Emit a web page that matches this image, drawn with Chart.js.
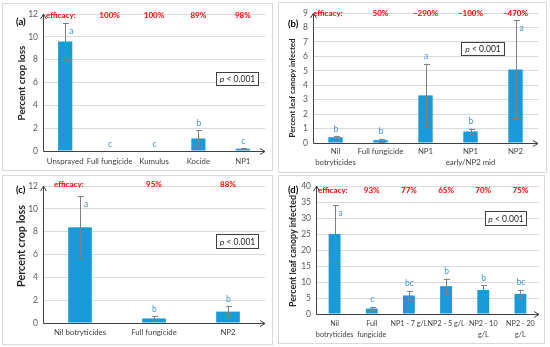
<!DOCTYPE html>
<html><head><meta charset="utf-8">
<script src="https://cdn.jsdelivr.net/npm/chart.js@4"></script>
<style>
html,body{margin:0;padding:0;background:#fff;}
body{width:550px;height:347px;position:relative;overflow:hidden;}
.panel{position:absolute;border:1px solid #d9d9d9;}
.panel canvas{display:block;}
</style></head><body>
<div class="panel" style="left:2px;top:3px;width:269px;height:166px"><canvas id="ca" width="269" height="166"></canvas></div>
<div class="panel" style="left:278px;top:2px;width:267px;height:169px"><canvas id="cb" width="267" height="169"></canvas></div>
<div class="panel" style="left:2px;top:175px;width:269px;height:168px"><canvas id="cc" width="269" height="168"></canvas></div>
<div class="panel" style="left:278px;top:175px;width:265px;height:167px"><canvas id="cd" width="265" height="167"></canvas></div>
<script>
// ---- data ----
const catsA = ['Unsprayed', 'Full fungicide', 'Kumulus', 'Kocide', 'NP1'];
const valsA = [9.6, 0, 0, 1.1, 0.2];
const errA = [1.6, 0, 0, 0.7, 0.05];
const lettersA = ['a', 'c', 'c', 'b', 'c'];
const effA = ['', '100%', '100%', '89%', '98%'];
const yTicksA = [0, 12, 2];

const catsB = [['Nil', 'botryticides'], 'Full fungicide', 'NP1', ['NP1', 'early/NP2 mid'], 'NP2'];
const valsB = [0.4, 0.2, 3.3, 0.8, 5.1];
const errB = [0.1, 0.1, 2.2, 0.2, 3.4];
const lettersB = ['b', 'b', 'a', 'b', 'a'];
const effB = ['', '50%', '\u2212290%', '\u2212100%', '\u2212470%'];
const yTicksB = [0, 9, 1];

const catsC = ['Nil botryticides', 'Full fungicide', 'NP2'];
const valsC = [8.4, 0.4, 1.0];
const errC = [2.7, 0.2, 0.5];
const lettersC = ['a', 'b', 'b'];
const effC = ['', '95%', '88%'];
const yTicksC = [0, 12, 2];

const catsD = [['Nil', 'botryticides'], ['Full', 'fungicide'], 'NP1 - 7 g/L', 'NP2 - 5 g/L', ['NP2 - 10', 'g/L'], ['NP2 - 20', 'g/L']];
const valsD = [25, 1.7, 5.8, 8.7, 7.5, 6.3];
const errD = [9, 0.6, 1.5, 2.4, 1.5, 1.3];
const lettersD = ['a', 'c', 'bc', 'b', 'b', 'bc'];
const effD = ['', '93%', '77%', '65%', '70%', '75%'];
const yTicksD = [0, 40, 5];

const FONT = 'Lato, "Open Sans", sans-serif';

function makeChart(id, cats, vals, errs, letters, eff, yt, L) {
  const deco = {
    id: 'deco' + id,
    afterDatasetsDraw(chart) {
      const ctx = chart.ctx, a = chart.chartArea;
      const xs = chart.scales.x, ys = chart.scales.y;
      const ymax = yt[1];
      ctx.save();
      // error bars
      ctx.strokeStyle = '#808080'; ctx.lineWidth = 1;
      vals.forEach((v, i) => {
        const e = errs[i];
        if (!e) return;
        const x = Math.round(xs.getPixelForValue(i)) + 0.5;
        const y1 = ys.getPixelForValue(v - e), y2 = ys.getPixelForValue(v + e);
        ctx.beginPath();
        ctx.moveTo(x, y1); ctx.lineTo(x, y2);
        ctx.moveTo(x - 2.5, Math.round(y1) + 0.5); ctx.lineTo(x + 3.5, Math.round(y1) + 0.5);
        ctx.moveTo(x - 2.5, Math.round(y2) + 0.5); ctx.lineTo(x + 3.5, Math.round(y2) + 0.5);
        ctx.stroke();
      });
      // axes with arrows
      ctx.strokeStyle = '#404040'; ctx.lineWidth = 1;
      const ax = Math.round(a.left) + 0.5, ay = Math.round(a.bottom) + 0.5;
      ctx.beginPath();
      ctx.moveTo(ax, ay); ctx.lineTo(ax, a.top);
      ctx.moveTo(ax - 3, a.top + 5); ctx.lineTo(ax, a.top); ctx.lineTo(ax + 3, a.top + 5);
      ctx.moveTo(ax, ay); ctx.lineTo(a.right, ay);
      ctx.moveTo(a.right - 5, ay - 3); ctx.lineTo(a.right, ay); ctx.lineTo(a.right - 5, ay + 3);
      ctx.stroke();
      // letters
      ctx.fillStyle = '#3f97d8';
      ctx.font = '8.5px ' + FONT;
      ctx.textBaseline = 'middle';
      letters.forEach((t, i) => {
        const top = vals[i] + errs[i];
        const x = xs.getPixelForValue(i);
        if (top > 0.75 * ymax) {
          ctx.textAlign = 'left';
          ctx.fillText(t, x + 4, ys.getPixelForValue(top) + 8);
        } else {
          ctx.textAlign = 'center';
          ctx.fillText(t, x + 0.5, ys.getPixelForValue(top) - 7);
        }
      });
      // efficacy row
      ctx.fillStyle = '#ff0000';
      ctx.font = 'bold 8px ' + FONT;
      const ey = a.top + L.effDy;
      ctx.textAlign = 'left';
      ctx.fillText('efficacy:', a.left + L.effX, ey);
      ctx.textAlign = 'center';
      eff.forEach((t, i) => { if (t) ctx.fillText(t, xs.getPixelForValue(i), ey); });
      // y-axis title (fitted to the reference length)
      ctx.fillStyle = '#262626';
      ctx.font = 'bold 10px ' + FONT;
      const tw = ctx.measureText(L.title).width;
      const fs = 10 * L.tlen / tw;
      ctx.font = 'bold ' + fs.toFixed(2) + 'px ' + FONT;
      ctx.save();
      ctx.translate(L.tx, L.ty);
      ctx.rotate(-Math.PI / 2);
      ctx.textAlign = 'center';
      ctx.fillText(L.title, 0, 0);
      ctx.restore();
      // p box
      const [bx, by, bw, bh] = L.pbox;
      ctx.fillStyle = '#fff';
      ctx.fillRect(bx, by, bw, bh);
      ctx.strokeStyle = '#404040';
      ctx.strokeRect(bx + 0.5, by + 0.5, bw, bh);
      ctx.fillStyle = '#262626';
      ctx.font = 'italic 8.5px ' + FONT;
      const w1 = ctx.measureText('p').width;
      ctx.font = '8.5px ' + FONT;
      const w2 = ctx.measureText(' < 0.001').width;
      let tx = bx + (bw - w1 - w2) / 2 + 0.5;
      ctx.textAlign = 'left';
      ctx.font = 'italic 8.5px ' + FONT;
      ctx.fillText('p', tx, by + bh / 2 + 1);
      ctx.font = '8.5px ' + FONT;
      ctx.fillText(' < 0.001', tx + w1, by + bh / 2 + 1);
      // panel label
      ctx.fillStyle = '#000';
      ctx.font = 'bold 9.5px ' + FONT;
      ctx.textAlign = 'left';
      ctx.fillText(L.label, L.lx, L.ly);
      ctx.restore();
    }
  };
  return new Chart(document.getElementById(id), {
    type: 'bar',
    data: {
      labels: cats,
      datasets: [{
        data: vals,
        backgroundColor: '#1a9ad8',
        borderWidth: 0,
        barPercentage: 0.32,
        categoryPercentage: 1
      }]
    },
    options: {
      responsive: false,
      animation: false,
      devicePixelRatio: 1,
      layout: { padding: { left: 0, right: L.pr, top: L.pt, bottom: 0 } },
      plugins: { legend: { display: false }, tooltip: { enabled: false } },
      scales: {
        x: {
          grid: { display: false, drawTicks: false },
          border: { display: false },
          ticks: { color: '#404040', font: { family: FONT, size: L.xfs, lineHeight: L.xlh }, padding: L.xpad,
                   autoSkip: false, maxRotation: 0, minRotation: 0 },
          afterFit(s) { s.height = L.xh; }
        },
        y: {
          min: yt[0], max: yt[1],
          grid: { color: '#d9d9d9', drawTicks: false },
          border: { display: false },
          ticks: { stepSize: yt[2], color: '#595959', font: { family: FONT, size: 8.5 }, padding: 5 },
          title: { display: false },
          afterFit(s) { s.width = L.yw; }
        }
      }
    },
    plugins: [deco]
  });
}

makeChart('ca', catsA, valsA, errA, lettersA, effA, yTicksA,
  { pr: 7, pt: 9, xh: 19, yw: 40, xpad: 5, xfs: 7.8, xlh: 1.4, title: 'Percent crop loss', tlen: 75, tx: 19, ty: 79,
    effDy: 1, effX: 3, pbox: [213, 68, 42, 13], label: '(a)', lx: 13, ly: 18 });
makeChart('cb', catsB, valsB, errB, lettersB, effB, yTicksB,
  { pr: 8, pt: 10, xh: 29, yw: 34, xpad: 3, xfs: 7.8, xlh: 1.4, title: 'Percent leaf canopy infected', tlen: 99, tx: 13, ty: 85,
    effDy: 0, effX: 0, pbox: [182, 39, 43, 13], label: '(b)', lx: 9, ly: 21 });
makeChart('cc', catsC, valsC, errC, lettersC, effC, yTicksC,
  { pr: 7, pt: 8, xh: 21, yw: 40, xpad: 4, xfs: 7.8, xlh: 1.4, title: 'Percent crop loss', tlen: 82, tx: 19, ty: 70,
    effDy: -2, effX: 11, pbox: [213, 58, 42, 14], label: '(c)', lx: 13, ly: 14 });
makeChart('cd', catsD, valsD, errD, lettersD, effD, yTicksD,
  { pr: 5, pt: 8, xh: 29, yw: 37, xpad: 4, xfs: 7.2, xlh: 1.5, title: 'Percent leaf canopy infected', tlen: 112, tx: 14, ty: 75,
    effDy: 4, effX: 2, pbox: [206, 35, 41, 14], label: '(d)', lx: 9, ly: 14 });
</script>
</body></html>
